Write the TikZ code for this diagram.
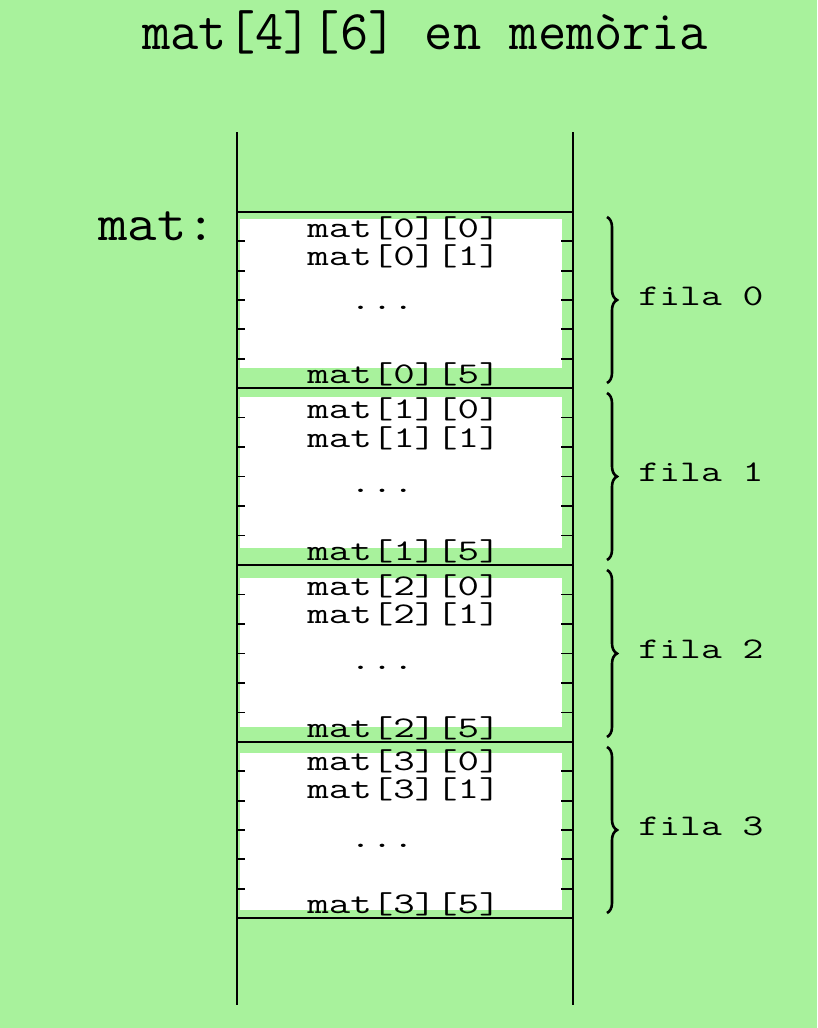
\documentclass[tikz,border=0pt]{standalone}
\usepackage{fontspec}
\usetikzlibrary{decorations.pathreplacing}
\definecolor{bg}{RGB}{168,242,156}
\begin{document}
\begin{tikzpicture}[x=1pt,y=-1pt,
  elem/.style={font=\ttfamily\fontsize{30}{30}\selectfont, xscale=1.39, inner sep=0pt, anchor=base, text height=0.62em, text depth=0.12em},
  fila/.style={font=\ttfamily\fontsize{30}{30}\selectfont, xscale=1.35, inner sep=0pt, anchor=base},
  wall/.style={line width=2.2pt, black},
  tick/.style={line width=1.8pt, black},
  brace/.style={decorate, decoration={brace, amplitude=10pt}, line width=2.6pt, black}]
\fill[bg] (0,0) rectangle (817,1028);
% white areas
\fill[white] (240,219) rectangle (562,368);
\fill[white] (240,397) rectangle (562,548);
\fill[white] (240,578) rectangle (562,727);
\fill[white] (240,753) rectangle (562,910);
% title
\node[font=\ttfamily\fontsize{56}{56}\selectfont, xscale=0.98, inner sep=0pt, anchor=base] (title) at (425,49) {mat[4][6] en memòria};
\node[font=\ttfamily\fontsize{52}{52}\selectfont, xscale=1.1, inner sep=0pt, anchor=base] (matlbl) at (157,240) {mat:};
% walls
\draw[wall] (237,132) -- (237,1005);
\draw[wall] (573,132) -- (573,1005);
\foreach \y in {212,388,565,742,918} \draw[wall] (237,\y) -- (573,\y);
% ticks
\foreach \t/\b in {212/388,388/565,565/742,742/918}{
  \foreach \k in {1,...,5}{
    \pgfmathsetmacro{\yy}{\t+\k*(\b-\t)/6}
    \draw[tick] (237,\yy) -- (245,\yy);
    \draw[tick] (561,\yy) -- (573,\yy);
  }
}
% row texts
\node[elem] (e00) at (404,237) {mat[0][0]};
\node[elem] (e01) at (404,265) {mat[0][1]};
\node[elem] (d0)  at (382,309) {...};
\node[elem] (e05) at (404,383) {mat[0][5]};
\node[elem] (e10) at (404,418) {mat[1][0]};
\node[elem] (e11) at (404,447) {mat[1][1]};
\node[elem] (d1)  at (382,492) {...};
\node[elem] (e15) at (404,560) {mat[1][5]};
\node[elem] (e20) at (404,595) {mat[2][0]};
\node[elem] (e21) at (404,623) {mat[2][1]};
\node[elem] (d2)  at (382,669) {...};
\node[elem] (e25) at (404,737) {mat[2][5]};
\node[elem] (e30) at (404,770) {mat[3][0]};
\node[elem] (e31) at (404,798) {mat[3][1]};
\node[elem] (d3)  at (382,847) {...};
\node[elem] (e35) at (404,913) {mat[3][5]};
% braces
\foreach \t/\b/\n in {212/388/0,388/565/1,565/742/2,742/918/3}{
  \coordinate (bt\n) at (607,\t+5);
  \coordinate (bb\n) at (607,\b-5);
  \draw[brace] (bt\n) -- (bb\n);
  \node[fila] (f\n) at (701,{(\t+\b)/2+5}) {fila \n};
}
\end{tikzpicture}
\end{document}
